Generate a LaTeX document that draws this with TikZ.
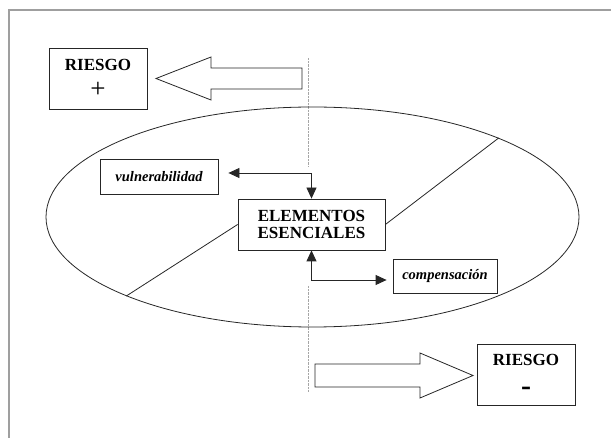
\documentclass[tikz,border=0pt]{standalone}
\usepackage{fontspec}
\setmainfont{Liberation Serif}
\usetikzlibrary{shapes.geometric, positioning, calc, arrows.meta}

\tikzset{
  box/.style={draw=black!85, line width=0.8pt, fill=white, inner sep=0pt, align=center},
  bigbox/.style={box, minimum width=98pt, minimum height=61pt, font=\fontsize{17}{27}\selectfont\bfseries},
  smallbox/.style={box, minimum height=35pt, font=\fontsize{14.5}{16}\selectfont\bfseries\itshape},
  link/.style={line width=0.8pt, draw=black!85, {Triangle[length=11pt,width=10pt]}-{Triangle[length=11pt,width=10pt]}},
  blockarrow/.style={draw=black!85, line width=0.8pt, fill=white, line join=miter},
  guide/.style={draw=gray!70, line width=0.7pt, dash pattern=on 0.7pt off 0.7pt}
}

\begin{document}
\begin{tikzpicture}[x=1pt, y=-1pt]
  \useasboundingbox (0,0) rectangle (611,438);

  % Frame
  \draw[gray!75, line width=1.5pt] (9,438) -- (9,10) -- (611,10);

  % Dotted guide
  \coordinate (gtop) at (308,58);
  \coordinate (gup) at (308,166);
  \coordinate (gdown) at (308,286);
  \coordinate (gbot) at (308,392);
  \draw[guide] (gtop) -- (gup);
  \draw[guide] (gdown) -- (gbot);

  % Oval and its diameter
  \node[ellipse, draw=black!85, line width=0.8pt, minimum width=533pt, minimum height=220pt, inner sep=0pt] (oval) at (312.5,217) {};

  % Central boxes
  \node[box, minimum width=147pt, minimum height=51pt, font=\fontsize{17}{17.5}\selectfont\bfseries] (elem) at (311.5,224.5) {ELEMENTOS\\ESENCIALES};
  \node[smallbox, minimum width=118pt] (vuln) at (159,176.5) {vulnerabilidad};
  \node[smallbox, minimum width=104pt, minimum height=34pt] (comp) at (445,276) {compensación};

  \draw[line width=0.8pt, black!85] (elem.west) -- (oval.203);
  \draw[line width=0.8pt, black!85] (elem.east) -- (oval.23);

  % Links
  \draw[link] ([xshift=10pt, yshift=3.5pt]vuln.east) -| (elem.north);
  \draw[link] (elem.south) |- ([xshift=-6pt, yshift=-4pt]comp.west);

  % Risk boxes
  \node[bigbox] (riskup) at (98,78.5) {RIESGO\\{\fontsize{27}{27}\selectfont\mdseries +}};
  \node[bigbox] (riskdown) at (526,374.5) {RIESGO\\[3pt]{\fontsize{30}{27}\selectfont -}};

  % Block arrows
  \draw[blockarrow] (302,68) -- (211,68) -- (211,57) -- (156,78.5) -- (211,100) -- (211,89) -- (302,89) -- cycle;
  \draw[blockarrow] (315,364) -- (420,364) -- (420,353) -- (473,375.5) -- (420,398) -- (420,387) -- (315,387) -- cycle;
\end{tikzpicture}
\end{document}
